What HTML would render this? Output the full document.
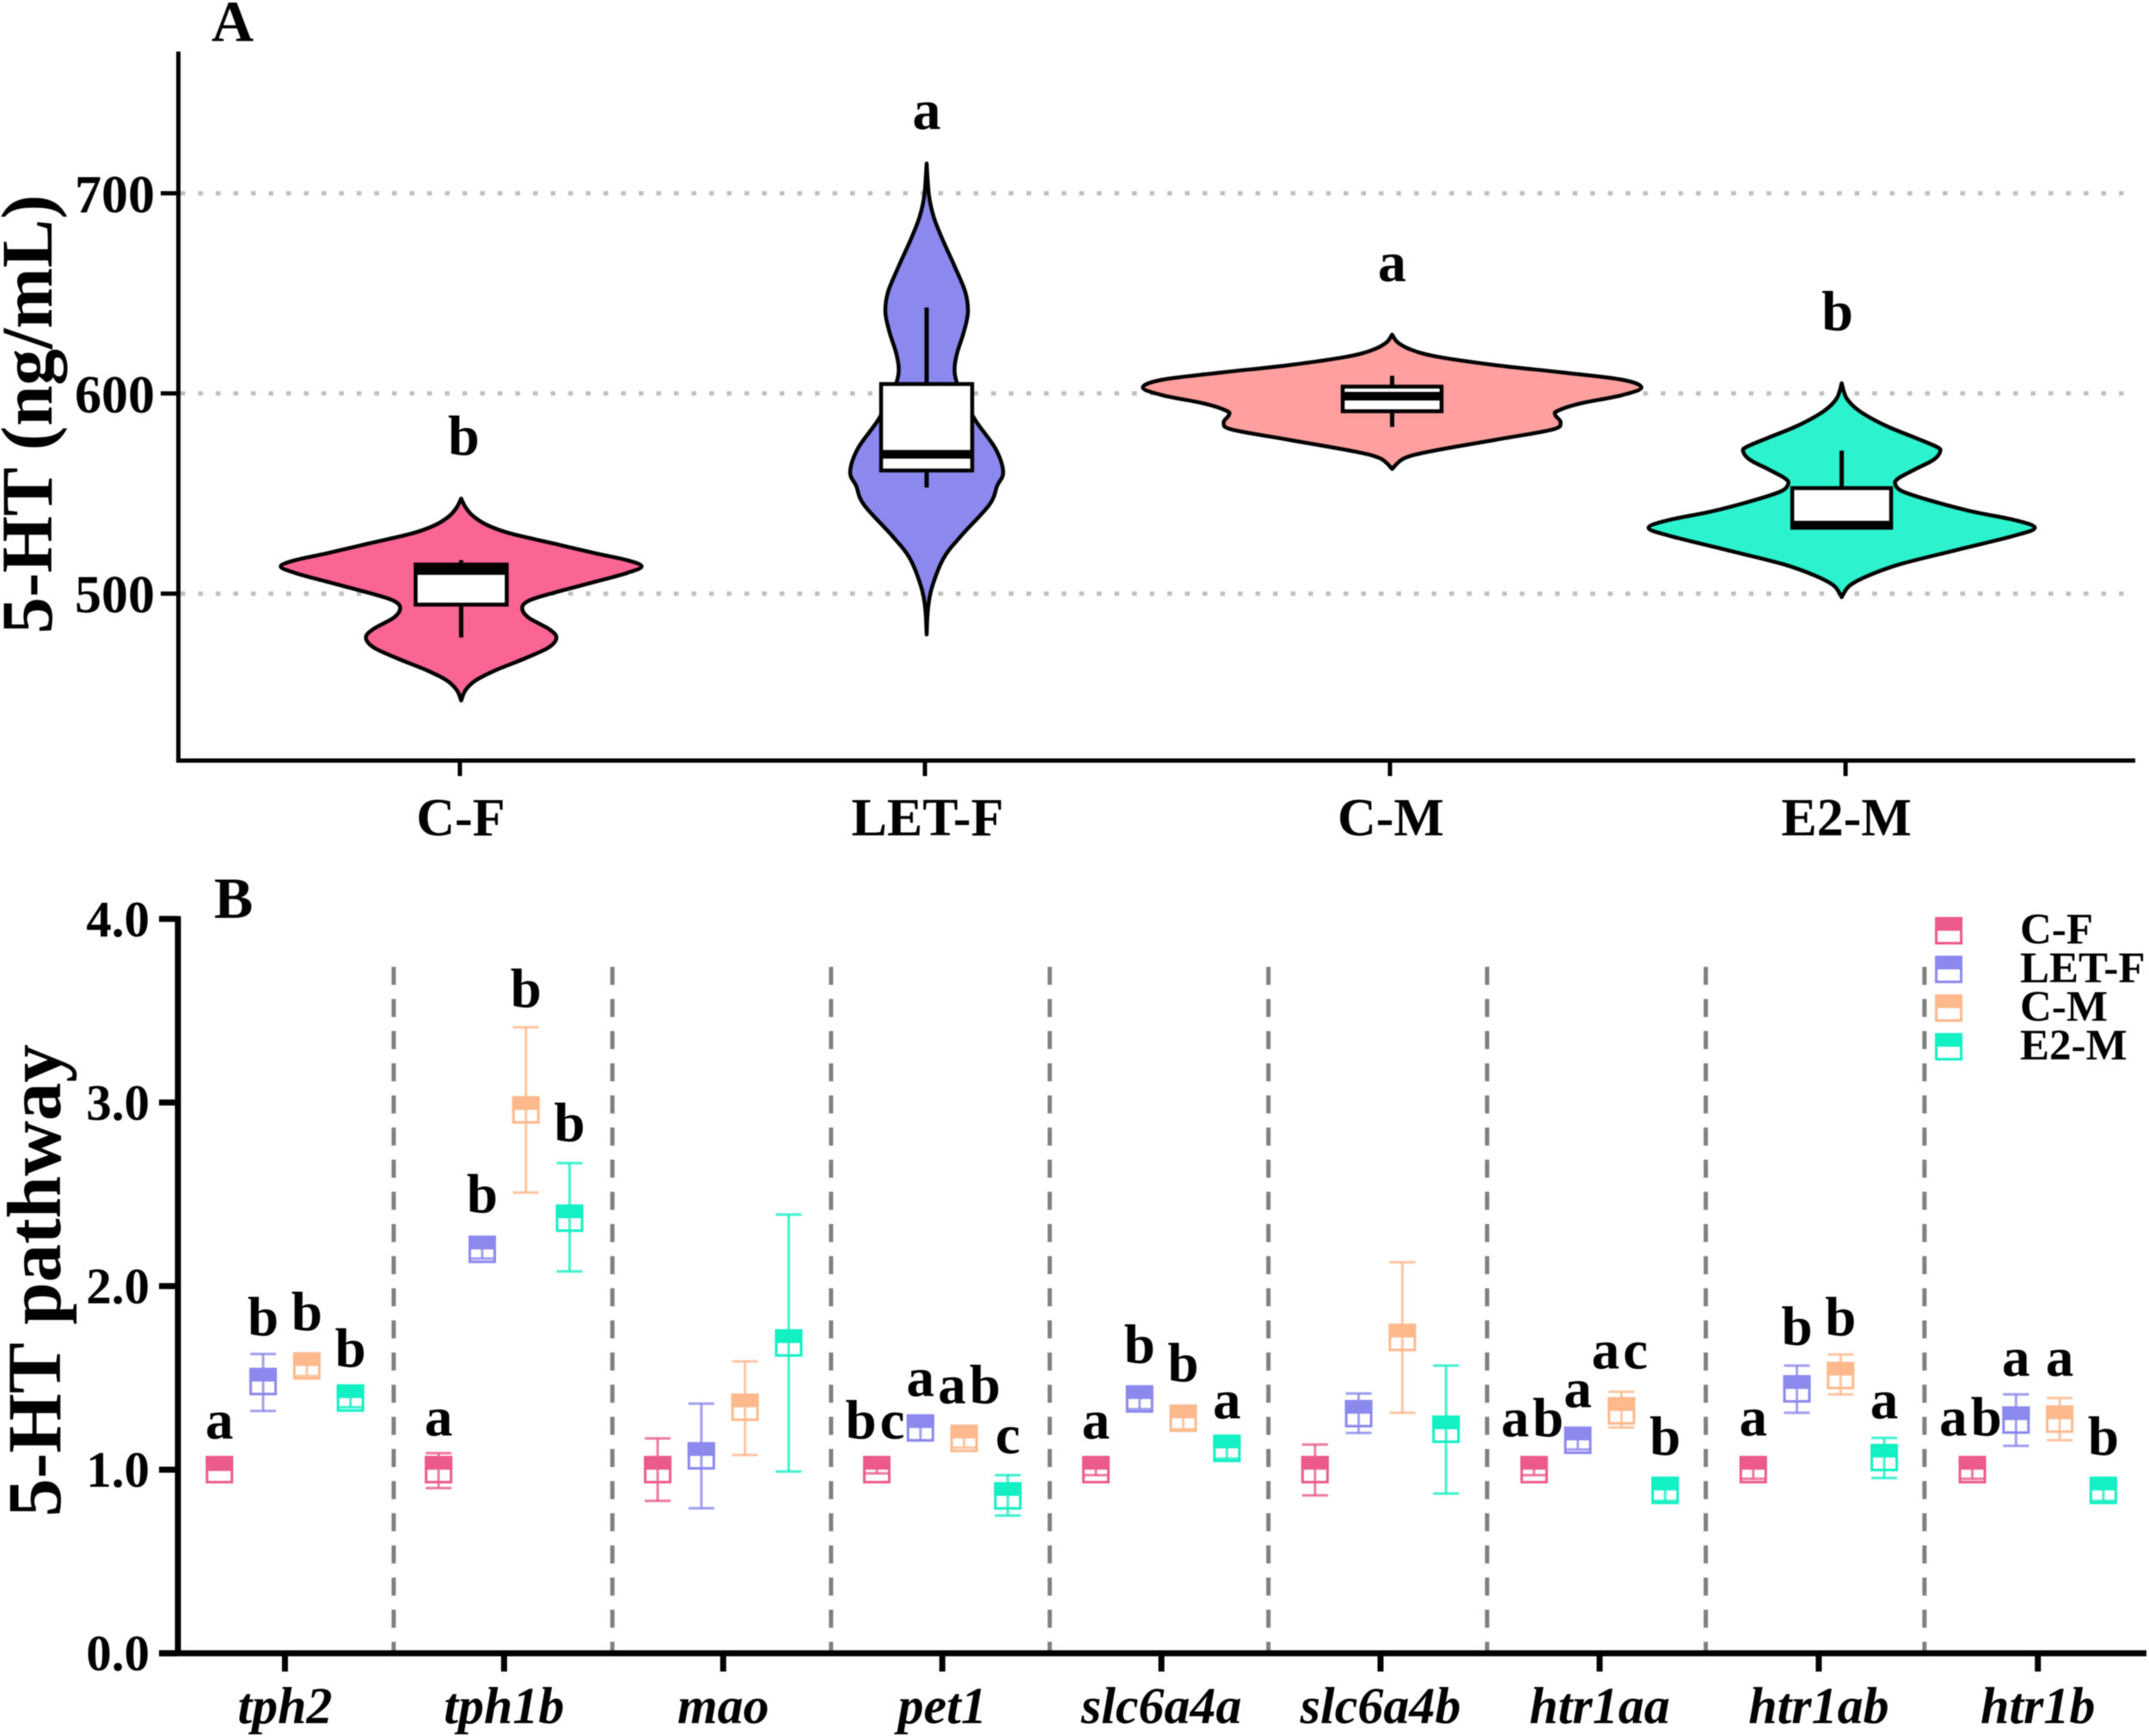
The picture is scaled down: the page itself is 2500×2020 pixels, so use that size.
<!DOCTYPE html>
<html lang="en">
<head>
<meta charset="utf-8">
<title>5-HT violin and pathway chart</title>
<style>
html,body{margin:0;padding:0;background:#fff;}
svg{display:block;filter:blur(0.6px);}
text{font-family:"Liberation Serif",serif;font-weight:bold;fill:#000;}
</style>
</head>
<body>
<svg id="chart" xmlns="http://www.w3.org/2000/svg" width="2500" height="2020" viewBox="0 0 2500 2020">
  <rect x="0" y="0" width="2500" height="2020" fill="#fff"/>
  <text x="246" y="48" font-size="68">A</text>
  <text x="249" y="1068" font-size="68">B</text>
  <text transform="translate(60,482) rotate(-90)" text-anchor="middle" font-size="85">5-HT (ng/mL)</text>
  <text transform="translate(70,1490) rotate(-90)" text-anchor="middle" font-size="89">5-HT pathway</text>
  <g id="panelA"></g>
  <g id="panelB"></g>
  <g id="legend"></g>
</svg>
<script>
// ---------- Panel A data ----------
const groups = ['C-F', 'LET-F', 'C-M', 'E2-M'];
const groupLetters = ['b', 'a', 'a', 'b'];
const letterValuesA = [569.4, 732.2, 656.2, 631.7];
const ticksA = [500, 600, 700];

const violinValuesCF = [547.5, 543.2, 538.9, 534.3, 530.1, 525.1, 520.1, 516.7, 513.6, 510.3, 506, 500.3, 496.7, 493.1, 488.1, 482.4, 478.1, 473.1, 467.4, 461.7, 456.6, 451.7, 446.6];
const violinDensityCF = [0, 2.5, 6.7, 15, 28.4, 53.4, 78.4, 96.5, 105, 96.5, 78.4, 53.4, 40, 35.5, 39, 50.9, 55.4, 50.9, 36.5, 20, 8.4, 2.5, 0];
const violinValuesLET = [714.9, 699, 688.1, 677.1, 663.1, 650.6, 640.5, 630.3, 619.4, 610, 600, 586.6, 572.5, 560.8, 553.8, 544.4, 528.8, 517.9, 503.8, 492.9, 479.6];
const violinDensityLET = [0, 1.35, 4.15, 9.15, 16.5, 22.5, 24, 21.5, 17.5, 16.35, 20, 28.35, 40, 44.5, 41, 36.5, 20, 10, 3.35, 0.85, 0];
const violinValuesCM = [629.4, 625.5, 621.9, 618.4, 614.1, 610.5, 606.9, 603, 599.1, 594.8, 591.2, 589.1, 585.4, 581.9, 576.9, 571.1, 567.6, 562.3];
const violinDensityCM = [0, 3.25, 10.9, 26, 60.5, 99, 133.5, 145, 133.5, 108.5, 96, 95, 98, 93, 60.5, 22.5, 7, 0];
const violinValuesE2 = [605.1, 597.6, 591.2, 584, 577.6, 573.3, 571.1, 566.9, 561.8, 557.5, 554.7, 551.1, 546.8, 541.1, 536.8, 532.9, 528.9, 521.8, 514.6, 508.9, 503.9, 498.2];
const violinDensityE2 = [0, 2.85, 10.35, 25.35, 43.5, 55.35, 57.35, 53.5, 42, 32.85, 31.15, 35.35, 50.35, 75.35, 100.35, 112.35, 100.35, 67, 33.65, 15.35, 4.5, 0];

const boxQ1 = [494.5, 561.5, 591.1, 532.9];
const boxMedian = [511.5, 569.6, 598.6, 534.2];
const boxQ3 = [514.5, 604.7, 603.4, 552.7];
const whiskerLow = [478.1, 553, 583.3, 533];
const whiskerHigh = [516.7, 642.9, 608.8, 571.4];

// ---------- Panel B data ----------
const genes = ['tph2', 'tph1b', 'mao', 'pet1', 'slc6a4a', 'slc6a4b', 'htr1aa', 'htr1ab', 'htr1b'];
const ticksB = [0, 1, 2, 3, 4];
const tickLabelsB = ['0.0', '1.0', '2.0', '3.0', '4.0'];

const meansCF = [1, 1, 1, 1, 1, 1, 1, 1, 1];
const highCF = [1, 1.09, 1.17, 1.02, 1.03, 1.137, 1.03, 1.05, 1.05];
const lowCF = [1, 0.9, 0.83, 0.98, 0.97, 0.86, 0.97, 0.95, 0.95];
const meansLET = [1.48, 2.2, 1.075, 1.227, 1.385, 1.305, 1.16, 1.44, 1.27];
const highLET = [1.63, 2.25, 1.36, 1.29, 1.44, 1.415, 1.21, 1.567, 1.41];
const lowLET = [1.32, 2.15, 0.79, 1.16, 1.33, 1.2, 1.11, 1.31, 1.13];
const meansCM = [1.565, 2.96, 1.34, 1.17, 1.28, 1.72, 1.32, 1.513, 1.275];
const highCM = [1.62, 3.41, 1.59, 1.22, 1.34, 2.13, 1.424, 1.627, 1.39];
const lowCM = [1.51, 2.51, 1.08, 1.12, 1.22, 1.31, 1.23, 1.41, 1.16];
const meansE2 = [1.39, 2.37, 1.69, 0.857, 1.116, 1.22, 0.887, 1.066, 0.887];
const highE2 = [1.44, 2.67, 2.39, 0.97, 1.18, 1.567, 0.94, 1.173, 0.94];
const lowE2 = [1.34, 2.08, 0.99, 0.75, 1.06, 0.87, 0.83, 0.955, 0.83];

const lettersCF = ['a', 'a', '', 'bc', 'a', '', 'ab', 'a', 'ab'];
const lettersLET = ['b', 'b', '', 'a', 'b', '', 'a', 'b', 'a'];
const lettersCM = ['b', 'b', '', 'ab', 'b', '', 'ac', 'b', 'a'];
const lettersE2 = ['b', 'b', '', 'c', 'a', '', 'b', 'a', 'b'];
const letterLevelCF = [1.17, 1.185, 0, 1.17, 1.17, 0, 1.18, 1.185, 1.185];
const letterLevelLET = [1.73, 2.4, 0, 1.4, 1.58, 0, 1.34, 1.68, 1.51];
const letterLevelCM = [1.76, 3.52, 0, 1.36, 1.48, 0, 1.55, 1.73, 1.51];
const letterLevelE2 = [1.56, 2.79, 0, 1.09, 1.28, 0, 1.08, 1.28, 1.08];

// ---------- Helpers and scales ----------
const NS = 'http://www.w3.org/2000/svg';
function mk(tag, attrs, parent) {
  const e = document.createElementNS(NS, tag);
  for (const k in attrs) e.setAttribute(k, attrs[k]);
  parent.appendChild(e);
  return e;
}
const panelA = document.getElementById('panelA');
const panelB = document.getElementById('panelB');
const legend = document.getElementById('legend');

const yA = v => 690.7 - (v - 500) * 2.329;
const xA = i => (i < 3 ? 536.5 + 541.5 * i : 2142.5);
const xTickA = i => (i < 3 ? 535 + 541 * i : 2147);
const widthA = d => d * 2;
const boxWidthA = i => (i < 2 ? 106 : 115);
const yB = v => 1923.7 - v * 213.6;
const xB = g => 331.5 + g * 254.9;
const xSeries = (g, s) => xB(g) + (s - 1.5) * 50.8;

// ---------- Panel A drawing ----------
function violinPath(cx, values, density) {
  const right = values.map((v, i) => [cx + widthA(density[i]), yA(v)]);
  const left = values.map((v, i) => [cx - widthA(density[i]), yA(v)]).reverse();
  function seg(pts, start) {
    let d = start ? 'M' + pts[0][0] + ' ' + pts[0][1] : '';
    for (let i = 0; i < pts.length - 1; i++) {
      const p0 = pts[Math.max(0, i - 1)], p1 = pts[i], p2 = pts[i + 1], p3 = pts[Math.min(pts.length - 1, i + 2)];
      const c1x = p1[0] + (p2[0] - p0[0]) / 6, c1y = p1[1] + (p2[1] - p0[1]) / 6;
      const c2x = p2[0] - (p3[0] - p1[0]) / 6, c2y = p2[1] - (p3[1] - p1[1]) / 6;
      d += 'C' + c1x + ' ' + c1y + ' ' + c2x + ' ' + c2y + ' ' + p2[0] + ' ' + p2[1];
    }
    return d;
  }
  return seg(right, true) + seg(left, false) + 'Z';
}

ticksA.forEach(t => {
  const grid = mk('line', {x1: 210, x2: 2484, y1: yA(t), y2: yA(t), stroke: '#bfbfbf', 'stroke-width': 5, 'stroke-dasharray': '5.5 15'}, panelA);
  
  
});

const violinValues = [violinValuesCF, violinValuesLET, violinValuesCM, violinValuesE2];
const violinDensity = [violinDensityCF, violinDensityLET, violinDensityCM, violinDensityE2];
const violinColors = ['#fb6594', '#8b88ee', '#ff9f9f', '#2cf2cd'];

groups.forEach((name, i) => {
  const cx = xA(i);
  const key = name.toLowerCase();
  const bw = boxWidthA(i);
  const vio = mk('path', {d: violinPath(cx, violinValues[i], violinDensity[i]), fill: violinColors[i], stroke: '#000', 'stroke-width': 4.5, 'stroke-linejoin': 'round'}, panelA);
  
  

  const wh = mk('line', {x1: cx, x2: cx, y1: yA(whiskerHigh[i]), y2: yA(whiskerLow[i]), stroke: '#000', 'stroke-width': 5}, panelA);
  
  

  const box = mk('rect', {x: cx - bw / 2, y: yA(boxQ3[i]), width: bw, height: yA(boxQ1[i]) - yA(boxQ3[i]), fill: '#fff', stroke: '#000', 'stroke-width': 4.5}, panelA);
  
  

  const med = mk('line', {x1: cx - bw / 2, x2: cx + bw / 2, y1: yA(boxMedian[i]), y2: yA(boxMedian[i]), stroke: '#000', 'stroke-width': 10}, panelA);
  
  

  const letter = mk('text', {x: cx + (i === 3 ? -5 : i === 0 ? 3 : 0), y: yA(letterValuesA[i]), 'text-anchor': 'middle', 'font-size': 66}, panelA);
  letter.textContent = groupLetters[i];
  
  

  const tick = mk('line', {x1: xTickA(i), x2: xTickA(i), y1: 885, y2: 903, stroke: '#000', 'stroke-width': 5}, panelA);
  
  

  const lab = mk('text', {x: xTickA(i) + (i === 1 ? 3 : 1), y: 972, 'text-anchor': 'middle', 'font-size': 62}, panelA);
  lab.textContent = name;
  
  
});

ticksA.forEach(t => {
  const tk = mk('line', {x1: 187, x2: 207, y1: yA(t), y2: yA(t), stroke: '#000', 'stroke-width': 5}, panelA);
  
  
  const lb = mk('text', {x: 180, y: yA(t) + 22, 'text-anchor': 'end', 'font-size': 62}, panelA);
  lb.textContent = String(t);
  
  
});
const axisAY = mk('line', {x1: 207.5, x2: 207.5, y1: 60, y2: 887, stroke: '#000', 'stroke-width': 5}, panelA);


const axisAX = mk('line', {x1: 205, x2: 2484, y1: 885, y2: 885, stroke: '#000', 'stroke-width': 5}, panelA);



// ---------- Panel B drawing ----------
for (let g = 0; g < genes.length - 1; g++) {
  const sx = 458 + g * 254.4;
  const sep = mk('line', {x1: sx, x2: sx, y1: 1125, y2: 1921, stroke: '#808080', 'stroke-width': 5, 'stroke-dasharray': '21 16.4'}, panelB);
  
  
}

const seriesMeans = [meansCF, meansLET, meansCM, meansE2];
const seriesHigh = [highCF, highLET, highCM, highE2];
const seriesLow = [lowCF, lowLET, lowCM, lowE2];
const seriesLetters = [lettersCF, lettersLET, lettersCM, lettersE2];
const seriesLevels = [letterLevelCF, letterLevelLET, letterLevelCM, letterLevelE2];
const seriesColors = ['#ec5a8b', '#8b88ee', '#fdb98c', '#13f0c4'];
const M = 29;

function marker(parent, x, y, color) {
  const outer = mk('rect', {x: x - M / 2, y: y - M / 2, width: M, height: M, fill: '#fff', stroke: color, 'stroke-width': 3}, parent);
  
  
  const top = mk('rect', {x: x - M / 2 - 1.5, y: y - M / 2 - 1.5, width: M + 3, height: M / 2 + 1.5, fill: color}, parent);
  
  
}

groups.forEach((name, s) => {
  const col = seriesColors[s];
  genes.forEach((gene, g) => {
    const x = xSeries(g, s);
    const m = mk('g', {}, panelB);
    
    
    marker(m, x, yB(seriesMeans[s][g]), col);
    const hi = yB(seriesHigh[s][g]), lo = yB(seriesLow[s][g]);
    const stem = mk('line', {x1: x, x2: x, y1: hi, y2: lo, stroke: col, 'stroke-width': 3, opacity: 0.8}, m);
    
    
    const capHi = mk('line', {x1: x - 15, x2: x + 15, y1: hi, y2: hi, stroke: col, 'stroke-width': 3, opacity: 0.8}, m);
    
    
    const capLo = mk('line', {x1: x - 15, x2: x + 15, y1: lo, y2: lo, stroke: col, 'stroke-width': 3, opacity: 0.8}, m);
    
    
    const word = seriesLetters[s][g];
    if (word) {
      const shift = (g === 3 && s === 2) ? 8 : 0;
      const t = mk('text', {x: x + shift, y: yB(seriesLevels[s][g]), 'text-anchor': 'middle', 'font-size': 65, 'letter-spacing': word.length > 1 ? 4 : 0}, panelB);
      t.textContent = word;
      
      
    }
  });
});

genes.forEach((gene, g) => {
  const x = xB(g);
  const tk = mk('line', {x1: x, x2: x, y1: 1923, y2: 1945, stroke: '#000', 'stroke-width': 7}, panelB);
  
  
  const lb = mk('text', {x: x, y: 2005, 'text-anchor': 'middle', 'font-size': 60, 'font-style': 'italic'}, panelB);
  lb.textContent = gene;
  
  
});

ticksB.forEach((t, i) => {
  const tk = mk('line', {x1: 185, x2: 207, y1: yB(t), y2: yB(t), stroke: '#000', 'stroke-width': 7}, panelB);
  
  
  const lb = mk('text', {x: 174, y: yB(t) + 20, 'text-anchor': 'end', 'font-size': 59}, panelB);
  lb.textContent = tickLabelsB[i];
  
  
});
const axisBY = mk('line', {x1: 207, x2: 207, y1: 1066, y2: 1927, stroke: '#000', 'stroke-width': 7}, panelB);


const axisBX = mk('line', {x1: 185, x2: 2497, y1: 1923.7, y2: 1923.7, stroke: '#000', 'stroke-width': 7}, panelB);



// ---------- Legend ----------
groups.forEach((name, s) => {
  const y = 1083 + s * 45;
  const entry = mk('g', {}, legend);
  
  
  marker(entry, 2267, y, seriesColors[s]);
  const t = mk('text', {x: 2350, y: y + 15, 'font-size': 51}, entry);
  t.textContent = name;
  
  
});
</script>
</body>
</html>
